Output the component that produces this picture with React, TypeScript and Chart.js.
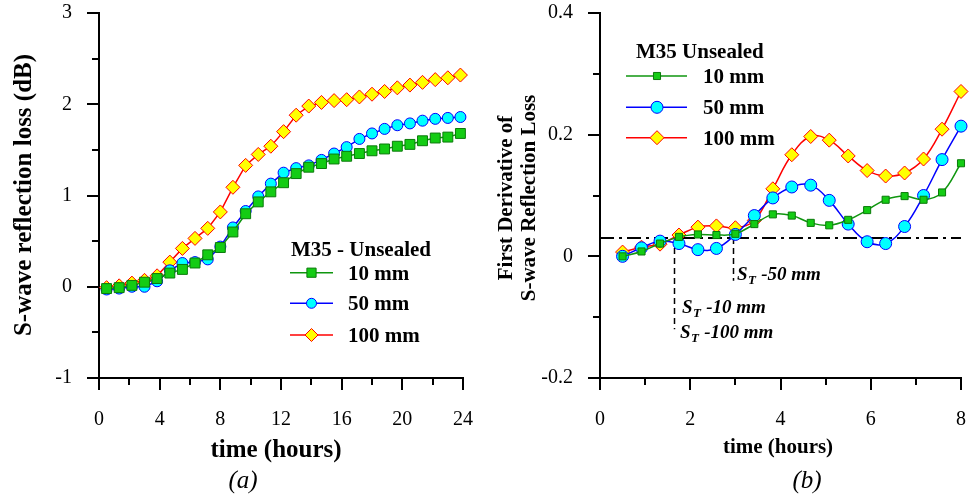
import React, { useEffect, useRef } from 'react';
import { Chart, registerables } from 'chart.js';
Chart.register(...registerables);

// ---------- data: chart (a) ----------
const TIME_A = [0.5, 1.33, 2.17, 3.0, 3.83, 4.67, 5.5, 6.33, 7.17, 8.0, 8.83, 9.67, 10.5, 11.33, 12.17, 13.0, 13.83, 14.67, 15.5, 16.33, 17.17, 18.0, 18.83, 19.67, 20.5, 21.33, 22.17, 23.0, 23.83];
const LOSS_10 = [-0.02, -0.01, 0.015, 0.05, 0.09, 0.15, 0.19, 0.26, 0.35, 0.43, 0.6, 0.8, 0.93, 1.04, 1.14, 1.24, 1.31, 1.35, 1.4, 1.43, 1.46, 1.49, 1.51, 1.54, 1.56, 1.6, 1.63, 1.64, 1.68];
const LOSS_50 = [-0.03, -0.02, 0.0, 0.0, 0.06, 0.18, 0.26, 0.27, 0.3, 0.44, 0.65, 0.83, 0.99, 1.13, 1.25, 1.3, 1.33, 1.39, 1.46, 1.53, 1.62, 1.68, 1.73, 1.77, 1.79, 1.82, 1.84, 1.85, 1.86];
const LOSS_100 = [-0.01, 0.01, 0.04, 0.07, 0.12, 0.27, 0.42, 0.53, 0.64, 0.82, 1.09, 1.33, 1.45, 1.54, 1.7, 1.88, 1.98, 2.02, 2.04, 2.05, 2.08, 2.11, 2.14, 2.18, 2.21, 2.24, 2.27, 2.29, 2.32];
const X_TICKS_A = [0, 4, 8, 12, 16, 20, 24];
const X_TICK_LABELS_A = ['0', '4', '8', '12', '16', '20', '24'];
const X_MINOR_A = [2, 6, 10, 14, 18, 22];
const Y_TICKS_A = [-1, 0, 1, 2, 3];
const Y_TICK_LABELS_A = ['-1', '0', '1', '2', '3'];
const Y_MINOR_A = [-0.5, 0.5, 1.5, 2.5];

// ---------- data: chart (b) ----------
const TIME_B = [0.5, 0.92, 1.33, 1.75, 2.17, 2.58, 3.0, 3.42, 3.83, 4.25, 4.67, 5.08, 5.5, 5.92, 6.33, 6.75, 7.17, 7.58, 8.0];
const DERIV_10 = [0.0, 0.008, 0.021, 0.032, 0.036, 0.035, 0.037, 0.053, 0.069, 0.067, 0.055, 0.051, 0.06, 0.076, 0.093, 0.099, 0.093, 0.105, 0.153];
const DERIV_50 = [0.0, 0.014, 0.025, 0.021, 0.011, 0.013, 0.036, 0.067, 0.096, 0.114, 0.117, 0.092, 0.053, 0.024, 0.021, 0.049, 0.1, 0.159, 0.214];
const DERIV_100 = [0.007, 0.015, 0.02, 0.035, 0.048, 0.05, 0.047, 0.059, 0.111, 0.167, 0.197, 0.191, 0.165, 0.141, 0.132, 0.137, 0.16, 0.209, 0.271];
const X_TICKS_B = [0, 2, 4, 6, 8];
const X_TICK_LABELS_B = ['0', '2', '4', '6', '8'];
const X_MINOR_B = [1, 3, 5, 7];
const Y_TICKS_B = [-0.2, 0, 0.2, 0.4];
const Y_TICK_LABELS_B = ['-0.2', '0', '0.2', '0.4'];
const Y_MINOR_B = [-0.1, 0.1, 0.3];
const THRESHOLD = 0.03;
const ST_LINES = [
  { t: 1.63, bottom: -0.12 },
  { t: 2.95, bottom: -0.04 },
];

const SERIES_LABELS = ['10 mm', '50 mm', '100 mm'];

const FONT = '"Liberation Serif", "Times New Roman", serif';
const C = {
  gLine: '#0f960f', gFill: '#14cc14', gEdge: '#0a7a0a',
  bLine: '#0000ff', bFill: '#00ffff', bEdge: '#0000ff',
  rLine: '#ff0000', rFill: '#ffff00', rEdge: '#ff0000',
};
const STYLES = [
  { style: 'rect', line: C.gLine, fill: C.gFill, edge: C.gEdge },
  { style: 'circle', line: C.bLine, fill: C.bFill, edge: C.bEdge },
  { style: 'rectRot', line: C.rLine, fill: C.rFill, edge: C.rEdge },
];

function drawMarker(ctx: CanvasRenderingContext2D, style: string, x: number, y: number, r: number, fill: string, stroke: string) {
  ctx.save();
  ctx.beginPath();
  if (style === 'rect') {
    const s = r * Math.SQRT1_2;
    ctx.rect(x - s, y - s, 2 * s, 2 * s);
  } else if (style === 'circle') {
    ctx.arc(x, y, r, 0, Math.PI * 2);
  } else {
    ctx.moveTo(x, y - r);
    ctx.lineTo(x + r, y);
    ctx.lineTo(x, y + r);
    ctx.lineTo(x - r, y);
    ctx.closePath();
  }
  ctx.fillStyle = fill;
  ctx.fill();
  ctx.lineWidth = 1;
  ctx.strokeStyle = stroke;
  ctx.stroke();
  ctx.restore();
}

function rotatedText(ctx: CanvasRenderingContext2D, text: string, x: number, y: number, font: string) {
  ctx.save();
  ctx.translate(x, y);
  ctx.rotate(-Math.PI / 2);
  ctx.font = font;
  ctx.fillStyle = '#000';
  ctx.textAlign = 'center';
  ctx.textBaseline = 'middle';
  ctx.fillText(text, 0, 0);
  ctx.restore();
}

function text(ctx: CanvasRenderingContext2D, s: string, x: number, y: number, font: string, align: CanvasTextAlign = 'left') {
  ctx.save();
  ctx.font = font;
  ctx.fillStyle = '#000';
  ctx.textAlign = align;
  ctx.textBaseline = 'alphabetic';
  ctx.fillText(s, x, y);
  ctx.restore();
}

function minorTicks(chart: any, xs: number[], ys: number[]) {
  const ctx = chart.ctx as CanvasRenderingContext2D;
  const { left, bottom } = chart.chartArea;
  ctx.save();
  ctx.strokeStyle = '#000';
  ctx.lineWidth = 2;
  ctx.beginPath();
  xs.forEach((v) => {
    const px = Math.round(chart.scales.x.getPixelForValue(v));
    ctx.moveTo(px, bottom);
    ctx.lineTo(px, bottom + 7);
  });
  ys.forEach((v) => {
    const py = Math.round(chart.scales.y.getPixelForValue(v));
    ctx.moveTo(left - 7, py);
    ctx.lineTo(left, py);
  });
  ctx.stroke();
  ctx.restore();
}

function legend(ctx: CanvasRenderingContext2D, title: string, tx: number, ty: number, rows: number[], x0: number, x1: number, mx: number, textX: number, radii: number[]) {
  text(ctx, title, tx, ty, `bold 21px ${FONT}`);
  rows.forEach((ry, i) => {
    const s = STYLES[i];
    ctx.save();
    ctx.strokeStyle = s.line;
    ctx.lineWidth = 1.5;
    ctx.beginPath();
    ctx.moveTo(x0, ry);
    ctx.lineTo(x1, ry);
    ctx.stroke();
    ctx.restore();
    drawMarker(ctx, s.style, mx, ry, radii[i], s.fill, s.edge);
    text(ctx, SERIES_LABELS[i], textX, ry + 7, `bold 21px ${FONT}`);
  });
}

function makeDatasets(times: number[], series: number[][], radii: number[], tension: number) {
  return series.map((vals, i) => ({
    label: SERIES_LABELS[i],
    data: times.map((t, k) => ({ x: t, y: vals[k] })),
    borderColor: STYLES[i].line,
    borderWidth: 1.5,
    pointStyle: STYLES[i].style,
    pointRadius: radii[i],
    pointBackgroundColor: STYLES[i].fill,
    pointBorderColor: STYLES[i].edge,
    pointBorderWidth: 1,
    tension,
    clip: false as any,
  }));
}

function axisOpts(ticks: number[], labels: string[], min: number, max: number, isX: boolean, fitSize: number, pad: number) {
  return {
    type: 'linear' as const,
    min,
    max,
    afterBuildTicks: (scale: any) => {
      scale.ticks = ticks.map((v) => ({ value: v }));
    },
    afterFit: (scale: any) => {
      if (isX) scale.height = fitSize;
      else scale.width = fitSize;
      scale.paddingTop = 0;
      scale.paddingBottom = 0;
      scale.paddingLeft = 0;
      scale.paddingRight = 0;
    },
    ticks: {
      callback: (_v: any, i: number) => labels[i],
      font: { family: FONT, size: 20 },
      color: '#000',
      padding: pad,
      maxRotation: 0,
      autoSkip: false,
    },
    grid: {
      drawOnChartArea: false,
      drawTicks: true,
      tickLength: 12,
      color: '#000',
      lineWidth: 2,
    },
    border: { display: true, color: '#000', width: 2 },
  };
}

export default function App() {
  const refA = useRef<HTMLCanvasElement>(null);
  const refB = useRef<HTMLCanvasElement>(null);

  useEffect(() => {
    const pluginA = {
      id: 'decorA',
      afterDraw(chart: any) {
        const ctx = chart.ctx as CanvasRenderingContext2D;
        minorTicks(chart, X_MINOR_A, Y_MINOR_A);
        rotatedText(ctx, 'S-wave reflection loss (dB)', 25, 195, `bold 25px ${FONT}`);
        text(ctx, 'time (hours)', 276, 457, `bold 25px ${FONT}`, 'center');
        text(ctx, '(a)', 243, 488, `italic 25px ${FONT}`, 'center');
        legend(ctx, 'M35 - Unsealed', 291, 256, [272.7, 303.3, 335], 290, 333, 311.5, 348, [6.5, 5, 6.5]);
      },
    };

    const pluginB = {
      id: 'decorB',
      beforeDatasetsDraw(chart: any) {
        const ctx = chart.ctx as CanvasRenderingContext2D;
        const { left, right } = chart.chartArea;
        const ys = chart.scales.y;
        const xs = chart.scales.x;
        const yT = ys.getPixelForValue(THRESHOLD);
        ctx.save();
        ctx.strokeStyle = '#000';
        ctx.lineWidth = 2;
        ctx.setLineDash([14, 5, 3, 5]);
        ctx.beginPath();
        ctx.moveTo(left, yT);
        ctx.lineTo(right, yT);
        ctx.stroke();
        ctx.lineWidth = 1.5;
        ctx.setLineDash([6, 4]);
        ST_LINES.forEach((s) => {
          const px = Math.round(xs.getPixelForValue(s.t)) + 0.5;
          ctx.beginPath();
          ctx.moveTo(px, yT);
          ctx.lineTo(px, ys.getPixelForValue(s.bottom));
          ctx.stroke();
        });
        ctx.restore();
      },
      afterDraw(chart: any) {
        const ctx = chart.ctx as CanvasRenderingContext2D;
        minorTicks(chart, X_MINOR_B, Y_MINOR_B);
        rotatedText(ctx, 'First Derivative of', 22, 198, `bold 21px ${FONT}`);
        rotatedText(ctx, 'S-wave Reflection Loss', 45, 198, `bold 21px ${FONT}`);
        text(ctx, 'time (hours)', 293, 453, `bold 21px ${FONT}`, 'center');
        text(ctx, '(b)', 322, 488, `italic 25px ${FONT}`, 'center');
        legend(ctx, 'M35 Unsealed', 151, 58, [76, 107.3, 137.7], 141, 202, 172, 218, [5, 6, 7]);
        const st = (x: number, y: number, rest: string) => {
          const f = `italic bold 19px ${FONT}`;
          ctx.save();
          ctx.font = f;
          ctx.fillStyle = '#000';
          ctx.textBaseline = 'alphabetic';
          ctx.fillText('S', x, y);
          const w = ctx.measureText('S').width;
          ctx.font = `italic bold 13px ${FONT}`;
          ctx.fillText('T', x + w + 0.5, y + 4);
          const wt = ctx.measureText('T').width;
          ctx.font = f;
          ctx.fillText(rest, x + w + wt + 1, y);
          ctx.restore();
        };
        st(252, 280, ' -50 mm');
        st(197, 313, ' -10 mm');
        st(195, 338, ' -100 mm');
      },
    };

    const chartA = new Chart(refA.current!, {
      type: 'line',
      data: { datasets: makeDatasets(TIME_A, [LOSS_10, LOSS_50, LOSS_100], [7, 5.5, 7], 0) as any },
      options: {
        animation: false,
        responsive: false,
        devicePixelRatio: 1,
        layout: { padding: { top: 13, left: 0, right: 22, bottom: 0 } },
        plugins: { legend: { display: false }, tooltip: { enabled: false } },
        scales: {
          x: axisOpts(X_TICKS_A, X_TICK_LABELS_A, 0, 24, true, 121, 18) as any,
          y: axisOpts(Y_TICKS_A, Y_TICK_LABELS_A, -1, 3, false, 99, 15) as any,
        },
      },
      plugins: [pluginA],
    });

    const chartB = new Chart(refB.current!, {
      type: 'line',
      data: { datasets: makeDatasets(TIME_B, [DERIV_10, DERIV_50, DERIV_100], [5, 6, 7], 0.4) as any },
      options: {
        animation: false,
        responsive: false,
        devicePixelRatio: 1,
        layout: { padding: { top: 13, left: 0, right: 5, bottom: 0 } },
        plugins: { legend: { display: false }, tooltip: { enabled: false } },
        scales: {
          x: axisOpts(X_TICKS_B, X_TICK_LABELS_B, 0, 8, true, 121, 18) as any,
          y: axisOpts(Y_TICKS_B, Y_TICK_LABELS_B, -0.2, 0.4, false, 115, 15) as any,
        },
      },
      plugins: [pluginB],
    });

    return () => {
      chartA.destroy();
      chartB.destroy();
    };
  }, []);

  return (
    <div style={{ position: 'fixed', left: 0, top: 0, width: 969, height: 499, background: '#fff', overflow: 'hidden' }}>
      <canvas ref={refA} width={485} height={499} style={{ position: 'absolute', left: 0, top: 0, width: 485, height: 499 }} />
      <canvas ref={refB} width={484} height={499} style={{ position: 'absolute', left: 485, top: 0, width: 484, height: 499 }} />
    </div>
  );
}
